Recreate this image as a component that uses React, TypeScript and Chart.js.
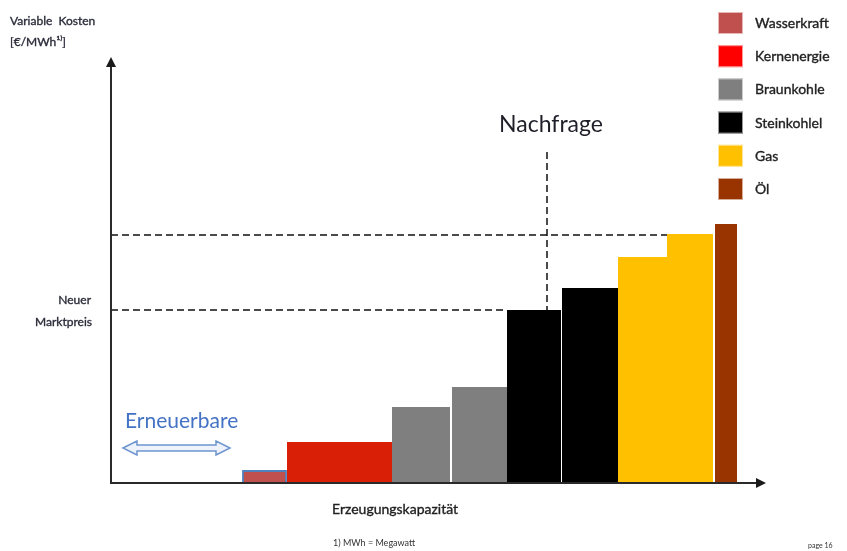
import React, { useEffect, useRef } from "react";
import { Chart, registerables } from "chart.js";

Chart.register(...registerables);

// ---- Data (capacity units on x, variable cost units on y) ----
const plantTypes = ["Wasserkraft", "Kernenergie", "Braunkohle", "Braunkohle", "Steinkohlel", "Steinkohlel", "Gas", "Gas", "Öl"];
const capStart = [26.4, 35.2, 56.2, 68.2, 79.2, 90.2, 101.4, 111.2, 120.8];
const capEnd = [35.0, 56.2, 67.8, 79.2, 90.0, 101.4, 111.2, 120.4, 125.2];
const varCost = [2.4, 8.2, 15.2, 19.2, 34.6, 39.0, 45.2, 49.8, 51.8];
const barFill = ["#C0504D", "#D91F06", "#7F7F7F", "#7F7F7F", "#000000", "#000000", "#FFC000", "#FFC000", "#993300"];
const barBorder = ["#4F81BD", null, null, null, null, null, null, null, null];

const legendLabels = ["Wasserkraft", "Kernenergie", "Braunkohle", "Steinkohlel", "Gas", "Öl"];
const legendColors = ["#C0504D", "#FF0000", "#7F7F7F", "#000000", "#FFC000", "#993300"];

const priceLevels = [49.6, 34.6];
const priceLineEnds = [111.2, 79.2];
const demandCapacity = 87.2;
const demandTop = 66.2;
const renewableRange = [2.4, 23.8];
const renewableLevel = 7;

const X_MAX = 131;
const Y_MAX = 85;

const FONT = "Lato, 'Liberation Sans', sans-serif";

function buildDatasets() {
  const ds: any[] = [];
  priceLevels.forEach((lvl, i) => {
    ds.push({
      label: "price" + i,
      data: [{ x: 0, y: lvl }, { x: priceLineEnds[i], y: lvl }],
      borderColor: "#111111",
      borderWidth: 1.5,
      borderDash: [7, 4],
      fill: false,
      pointRadius: 0,
      order: 0,
    });
  });
  ds.push({
    label: "Nachfrage",
    data: [{ x: demandCapacity, y: demandTop }, { x: demandCapacity, y: priceLevels[1] }],
    borderColor: "#111111",
    borderWidth: 1.5,
    borderDash: [7, 4],
    fill: false,
    pointRadius: 0,
    order: 0,
  });
  plantTypes.forEach((name, i) => {
    const x0 = capStart[i];
    const x1 = capEnd[i];
    const h = varCost[i];
    ds.push({
      label: name,
      data: [{ x: x0, y: 0 }, { x: x0, y: h }, { x: x1, y: h }, { x: x1, y: 0 }],
      backgroundColor: barFill[i],
      borderColor: barBorder[i] || "rgba(0,0,0,0)",
      borderWidth: barBorder[i] ? 1.8 : 0.5,
      fill: "origin",
      pointRadius: 0,
      tension: 0,
      order: 1,
    });
  });
  return ds;
}

function boldText(ctx: CanvasRenderingContext2D, text: string, x: number, y: number, maxW?: number) {
  ctx.fillText(text, x, y, maxW);
  ctx.lineWidth = 0.35;
  ctx.strokeStyle = ctx.fillStyle as string;
  ctx.strokeText(text, x, y, maxW);
}

const decorPlugin = {
  id: "decor",
  afterDatasetsDraw(chart: any) {
    const ctx = chart.ctx as CanvasRenderingContext2D;
    const { left, right, top, bottom } = chart.chartArea;
    const xs = chart.scales.x;
    const ys = chart.scales.y;
    ctx.save();
    ctx.strokeStyle = "#2a2a2a";
    ctx.fillStyle = "#1a1a1a";
    ctx.lineWidth = 2;
    ctx.beginPath();
    ctx.moveTo(left, bottom);
    ctx.lineTo(left, top + 8);
    ctx.moveTo(left - 1, bottom);
    ctx.lineTo(right - 8, bottom);
    ctx.stroke();
    ctx.beginPath();
    ctx.moveTo(left, top - 1);
    ctx.lineTo(left - 5, top + 9);
    ctx.lineTo(left + 5, top + 9);
    ctx.closePath();
    ctx.fill();
    ctx.beginPath();
    ctx.moveTo(right, bottom);
    ctx.lineTo(right - 10, bottom - 5);
    ctx.lineTo(right - 10, bottom + 5);
    ctx.closePath();
    ctx.fill();

    const ax0 = xs.getPixelForValue(renewableRange[0]);
    const ax1 = xs.getPixelForValue(renewableRange[1]);
    const ay = ys.getPixelForValue(renewableLevel);
    const hl = 14;
    ctx.beginPath();
    ctx.moveTo(ax0, ay);
    ctx.lineTo(ax0 + hl, ay - 7);
    ctx.lineTo(ax0 + hl, ay - 3);
    ctx.lineTo(ax1 - hl, ay - 3);
    ctx.lineTo(ax1 - hl, ay - 7);
    ctx.lineTo(ax1, ay);
    ctx.lineTo(ax1 - hl, ay + 7);
    ctx.lineTo(ax1 - hl, ay + 3);
    ctx.lineTo(ax0 + hl, ay + 3);
    ctx.lineTo(ax0 + hl, ay + 7);
    ctx.closePath();
    ctx.fillStyle = "#EEF3FB";
    ctx.fill();
    ctx.strokeStyle = "#6F95CF";
    ctx.lineWidth = 1.5;
    ctx.stroke();
    ctx.restore();
  },
  afterDraw(chart: any) {
    const ctx = chart.ctx as CanvasRenderingContext2D;
    const xs = chart.scales.x;
    const ys = chart.scales.y;
    ctx.save();
    ctx.textBaseline = "alphabetic";

    ctx.fillStyle = "#2b2b3a";
    ctx.textAlign = "left";
    ctx.font = `12px ${FONT}`;
    boldText(ctx, "Variable  Kosten", 10, 25, 118);
    boldText(ctx, "[€/MWh¹⁾]", 10, 46, 80);

    ctx.textAlign = "right";
    ctx.font = `12px ${FONT}`;
    boldText(ctx, "Neuer", 91, 304);
    boldText(ctx, "Marktpreis", 92, 326, 77);

    ctx.textAlign = "center";
    ctx.fillStyle = "#1f1f2a";
    ctx.font = `23px ${FONT}`;
    ctx.fillText("Nachfrage", xs.getPixelForValue(demandCapacity) + 4, 132, 110);

    ctx.textAlign = "left";
    ctx.fillStyle = "#4472C4";
    ctx.font = `21px ${FONT}`;
    ctx.fillText("Erneuerbare", xs.getPixelForValue(renewableRange[0]) + 2, ys.getPixelForValue(renewableLevel) - 20, 123);

    ctx.fillStyle = "#222222";
    ctx.font = `14px ${FONT}`;
    boldText(ctx, "Erzeugungskapazität", 332, 514, 143);

    ctx.font = `9px ${FONT}`;
    ctx.fillStyle = "#333333";
    ctx.fillText("1) MWh = Megawatt", 333, 546, 110);
    ctx.font = `7px ${FONT}`;
    ctx.fillText("page 16", 808, 548);

    ctx.font = `14px ${FONT}`;
    legendLabels.forEach((lab, i) => {
      const y0 = 12 + i * 33.2;
      ctx.fillStyle = legendColors[i];
      ctx.fillRect(718, y0, 25, 22);
      ctx.strokeStyle = "rgba(255,255,255,0.6)";
      ctx.lineWidth = 1;
      ctx.strokeRect(718.5, y0 + 0.5, 24, 21);
      ctx.fillStyle = "#222222";
      ctx.textAlign = "left";
      boldText(ctx, lab, 755, y0 + 16, 84);
    });
    ctx.restore();
  },
};

export default function App() {
  const ref = useRef<HTMLCanvasElement | null>(null);
  useEffect(() => {
    if (!ref.current) return;
    const chart = new Chart(ref.current, {
      type: "line",
      data: { datasets: buildDatasets() },
      options: {
        responsive: false,
        animation: false,
        layout: { padding: { left: 111, top: 58, right: 81, bottom: 68 } },
        scales: {
          x: { type: "linear", min: 0, max: X_MAX, display: false },
          y: { type: "linear", min: 0, max: Y_MAX, display: false },
        },
        plugins: {
          legend: { display: false },
          tooltip: { enabled: false },
        },
        elements: { line: { tension: 0 } },
      },
      plugins: [decorPlugin],
    });
    return () => chart.destroy();
  }, []);
  return (
    <div style={{ position: "fixed", left: 0, top: 0, width: 847, height: 551, background: "#ffffff" }}>
      <canvas ref={ref} width={847} height={551} style={{ display: "block", width: 847, height: 551 }} />
    </div>
  );
}
